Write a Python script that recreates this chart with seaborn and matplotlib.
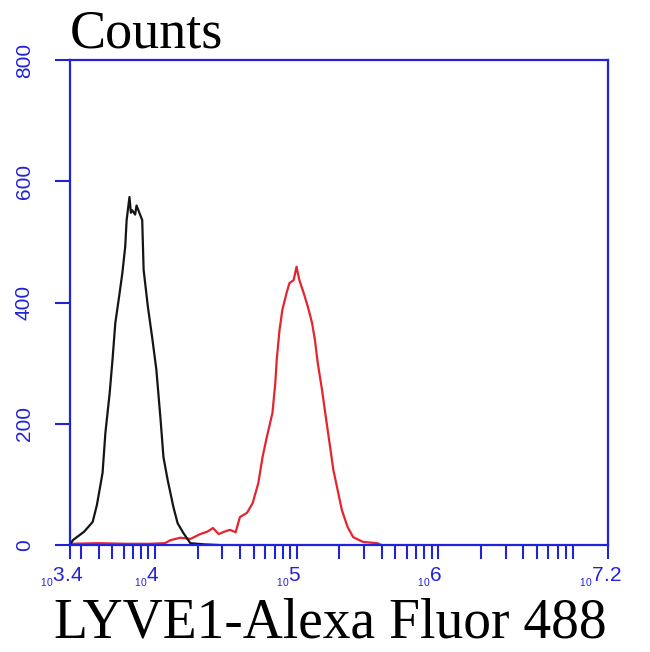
import numpy as np
import pandas as pd
import matplotlib
matplotlib.use("Agg")
import matplotlib.pyplot as plt
import seaborn as sns
from matplotlib.ticker import FixedLocator, LogLocator, NullFormatter
from matplotlib.transforms import ScaledTranslation

# ---- data (log10 fluorescence, counts) ----
control_log = [3.40, 3.42, 3.50, 3.56, 3.59, 3.63, 3.65, 3.68, 3.70, 3.72, 3.75, 3.77,
               3.79, 3.80, 3.82, 3.83, 3.84, 3.86, 3.87, 3.89, 3.91, 3.92, 3.95, 3.98,
               4.01, 4.04, 4.06, 4.09, 4.13, 4.16, 4.20, 4.25, 4.35, 4.45]
control_counts = [0, 8, 22, 38, 66, 119, 185, 250, 305, 366, 415, 449,
                  492, 536, 574, 548, 552, 545, 560, 548, 536, 454, 393, 343,
                  289, 206, 145, 107, 63, 36, 20, 3, 1, 0]

lyve1_log = [3.40, 3.60, 3.80, 3.96, 4.07, 4.11, 4.18, 4.25, 4.32, 4.37, 4.41, 4.45,
             4.49, 4.53, 4.57, 4.60, 4.65, 4.69, 4.73, 4.76, 4.79, 4.83, 4.85, 4.86,
             4.88, 4.90, 4.93, 4.95, 4.98, 5.00, 5.02, 5.05, 5.08, 5.11, 5.13, 5.15,
             5.18, 5.21, 5.24, 5.26, 5.29, 5.32, 5.36, 5.40, 5.47, 5.57, 5.60]
lyve1_counts = [2, 3, 2, 2, 3, 8, 12, 10, 18, 22, 28, 18,
                22, 25, 21, 46, 53, 69, 102, 145, 178, 218, 267, 305,
                355, 388, 416, 432, 437, 459, 437, 416, 393, 366, 338, 300,
                256, 206, 157, 124, 91, 58, 30, 13, 5, 3, 0]

y_ticks = [0, 200, 400, 600, 800]
x_tick_exps = ["3.4", "4", "5", "6", "7.2"]
title_text = "Counts"
xlabel_text = "LYVE1-Alexa Fluor 488"

# ---- style ----
sns.set_style("white")
plt.rcParams["font.family"] = ["Liberation Sans", "DejaVu Sans"]
plt.rcParams["mathtext.fontset"] = "custom"
plt.rcParams["mathtext.rm"] = "Liberation Sans"
plt.rcParams["mathtext.it"] = "Liberation Sans"
plt.rcParams["mathtext.bf"] = "Liberation Sans"

BLUE = "#2222d8"

df_c = pd.DataFrame({"x": 10 ** np.array(control_log), "y": control_counts})
df_r = pd.DataFrame({"x": 10 ** np.array(lyve1_log), "y": lyve1_counts})

fig = plt.figure(figsize=(6.5, 6.52), dpi=100)
ax = fig.add_axes([70 / 650, 107 / 652, 538 / 650, 485 / 652])

sns.lineplot(data=df_r, x="x", y="y", ax=ax, color="#e4242e", linewidth=1.6,
             sort=False, estimator=None)
sns.lineplot(data=df_c, x="x", y="y", ax=ax, color="#151515", linewidth=1.6,
             sort=False, estimator=None)

ax.set_xscale("log")
ax.set_xlim(10 ** 3.4, 10 ** 7.2)
ax.set_ylim(0, 800)

ax.xaxis.set_major_locator(FixedLocator([10 ** float(e) for e in x_tick_exps]))
ax.set_xticklabels([r"${}_{{}_{10}}$" + e for e in x_tick_exps])
ax.xaxis.set_minor_locator(LogLocator(base=10, subs=np.arange(2, 10), numticks=50))
ax.xaxis.set_minor_formatter(NullFormatter())

ax.set_yticks(y_ticks)
ax.set_yticklabels([str(v) for v in y_ticks])

for s in ax.spines.values():
    s.set_color(BLUE)
    s.set_linewidth(1.6)

ax.tick_params(axis="x", which="both", direction="out", length=10, width=1.5,
               color=BLUE, labelcolor=BLUE, labelsize=15, pad=5, bottom=True)
ax.tick_params(axis="y", which="major", direction="out", length=11, width=1.5,
               color=BLUE, labelcolor=BLUE, labelsize=15, pad=15, left=True,
               labelrotation=90)
for lab in ax.get_yticklabels():
    lab.set_va("center")
shift = ScaledTranslation(-8 / 100, 0, fig.dpi_scale_trans)
for lab in ax.get_xticklabels():
    lab.set_transform(lab.get_transform() + shift)

serif = ["Liberation Serif", "DejaVu Serif"]
ax.set_title(title_text, loc="left", pad=6, fontsize=39, family=serif, color="black")
ax.set_xlabel(xlabel_text, fontsize=40, family=serif, color="black")
ax.xaxis.label.set_va("baseline")
ax.xaxis.set_label_coords(0.483, -0.19)
ax.set_ylabel("")

fig.savefig("out.png", dpi=100)
